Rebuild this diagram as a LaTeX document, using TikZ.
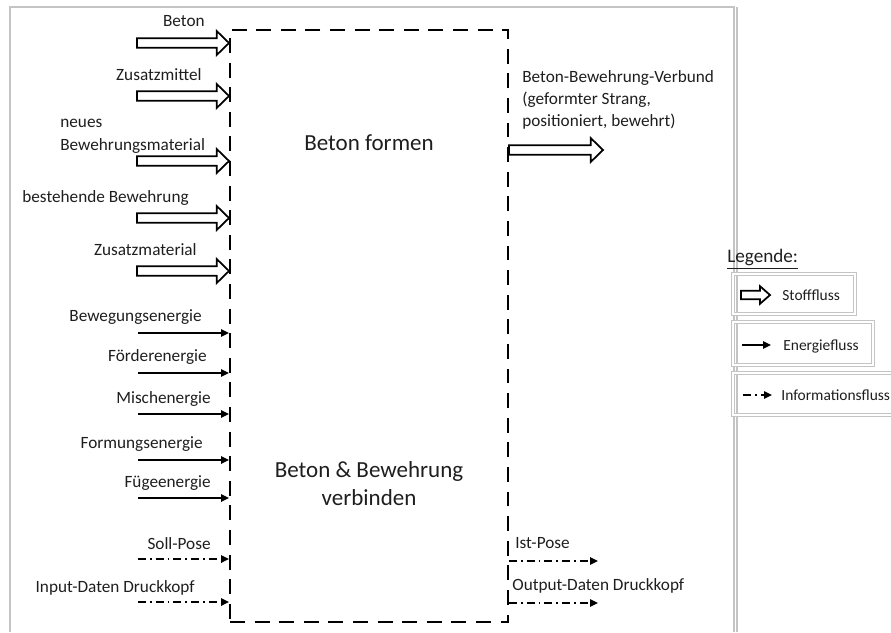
\documentclass[tikz,border=0pt]{standalone}
\usepackage{fontspec}
\setmainfont{Carlito}
\usetikzlibrary{arrows.meta, calc, fit}
\definecolor{ink}{HTML}{000000}
\definecolor{txt}{HTML}{1E1E1E}
\definecolor{rahmen}{HTML}{C4C4C4}
\tikzset{
  lbl/.style      = {inner sep=0pt, text height=7.7pt, text depth=1.7pt, text=txt,
                      font=\fontsize{9.8}{12.7}\selectfont},
  lblmulti/.style = {inner sep=0pt, align=left, text=txt, font=\fontsize{9.8}{12.7}\selectfont},
  leglbl/.style   = {lbl, font=\fontsize{8.8}{11}\selectfont},
  gross/.style    = {inner sep=0pt, align=center, text=txt, font=\fontsize{13.1}{16}\selectfont},
  prozess/.style  = {rectangle, draw=ink, line width=1.1pt, inner sep=0pt,
                      dash pattern=on 8.5pt off 5.5pt},
  stoffpfeil/.style n args = {3}{draw=ink, line width=1pt, fill=white, line join=miter,
                      to path={let \p1=(\tikztostart), \p2=(\tikztotarget) in
                      (\x1,\y1+#1) -- (\x2-#3,\y1+#1) -- (\x2-#3,\y1+#2) -- (\x2,\y1)
                      -- (\x2-#3,\y1-#2) -- (\x2-#3,\y1-#1) -- (\x1,\y1-#1) -- cycle}},
  stoff/.style      = {stoffpfeil={2.7pt}{6.8pt}{7pt}},
  stoffklein/.style = {stoffpfeil={2.4pt}{5pt}{5.7pt}},
  energie/.style  = {-{Triangle[length=4.5pt, width=4.2pt]}, line width=0.9pt, draw=ink},
  info/.style     = {-{Triangle[length=4.5pt, width=4.2pt]}, line width=0.9pt, draw=ink,
                      dash pattern=on 4.5pt off 2.3pt on 1pt off 2.3pt},
  legbox/.style   = {rectangle, draw=rahmen, line width=0.4pt, double, double distance=1.3pt,
                      inner sep=0pt},
}

\begin{document}
\begin{tikzpicture}[x=0.02cm, y=-0.02cm]
\useasboundingbox (0,0) rectangle (891,632);

% ---- Rahmen (Screenshot) ----
\draw[rahmen, line width=0.6pt] (10,632) -- (10,7) -- (734,7) -- (734,632);
\draw[rahmen, line width=0.6pt] (737,7) -- (737,632);

% ---- Prozess ----
\node[prozess, fit={(230,30) (508,622)}] (proc) {};
\node[gross] (formen) at (369,143) {Beton formen};
\node[gross] (verbinden) at (369,484) {Beton \& Bewehrung\\verbinden};

% ---- Stoffe (Input) ----
\coordinate (s1) at (137,43);
\coordinate (s2) at (137,96);
\coordinate (s3) at (137,161);
\coordinate (s4) at (137,218);
\coordinate (s5) at (137,271);
\node[lbl, anchor=east] (ls1) at (205,21) {Beton};
\node[lbl, anchor=east] (ls2) at (202,75) {Zusatzmittel};
\node[lblmulti, anchor=north west] (ls3) at (60,119) {neues\\Bewehrungsmaterial};
\node[lbl, anchor=west] (ls4) at (22,197) {bestehende Bewehrung};
\node[lbl, anchor=east] (ls5) at (197,250) {Zusatzmaterial};
\draw[stoff] (s1) to (s1 -| proc.west);
\draw[stoff] (s2) to (s2 -| proc.west);
\draw[stoff] (s3) to (s3 -| proc.west);
\draw[stoff] (s4) to (s4 -| proc.west);
\draw[stoff] (s5) to (s5 -| proc.west);

% ---- Energie (Input) ----
\coordinate (e1) at (138,333);
\coordinate (e2) at (138,373);
\coordinate (e3) at (138,414);
\coordinate (e4) at (138,460);
\coordinate (e5) at (138,498);
\node[lbl, anchor=east] (le1) at (202,316) {Bewegungsenergie};
\node[lbl, anchor=east] (le2) at (207,356) {Förderenergie};
\node[lbl, anchor=east] (le3) at (211,398) {Mischenergie};
\node[lbl, anchor=east] (le4) at (203,443) {Formungsenergie};
\node[lbl, anchor=east] (le5) at (211,482) {Fügeenergie};
\draw[energie] (e1) -- (e1 -| proc.west);
\draw[energie] (e2) -- (e2 -| proc.west);
\draw[energie] (e3) -- (e3 -| proc.west);
\draw[energie] (e4) -- (e4 -| proc.west);
\draw[energie] (e5) -- (e5 -| proc.west);

% ---- Information (Input) ----
\coordinate (i1) at (138,559);
\coordinate (i2) at (138,602);
\node[lbl, anchor=east] (li1) at (211,544) {Soll-Pose};
\node[lbl, anchor=east] (li2) at (195,587) {Input-Daten Druckkopf};
\draw[info] (i1) -- (i1 -| proc.west);
\draw[info] (i2) -- (i2 -| proc.west);

% ---- Output ----
\coordinate (o1) at (603,150);
\coordinate (o2) at (598,561);
\coordinate (o3) at (598,603);
\node[lblmulti, anchor=north west] (lo1) at (522,70)
  {Beton-Bewehrung-Verbund\\(geformter Strang,\\positioniert, bewehrt)};
\node[lbl, anchor=west] (lo2) at (515,543) {Ist-Pose};
\node[lbl, anchor=west] (lo3) at (512,585) {Output-Daten Druckkopf};
\draw[stoff] (o1 -| proc.east) to (o1);
\draw[info] (o2 -| proc.east) -- (o2);
\draw[info] (o3 -| proc.east) -- (o3);

% ---- Legende ----
\node[lbl, anchor=west, font=\fontsize{10.9}{13}\selectfont] (legtitel) at (727,257) {\underline{Legende:}};
\node[legbox, fit={(733,274) (855,314)}] (leg1) {};
\node[legbox, fit={(733,322) (873,365)}] (leg2) {};
\node[legbox, fit={(733,373) (900,415)}] (leg3) {};
\coordinate (leg1a) at (741,295);
\coordinate (leg1b) at (770,295);
\coordinate (leg2a) at (742,345);
\coordinate (leg2b) at (771,345);
\coordinate (leg3a) at (743,395);
\coordinate (leg3b) at (772,395);
\draw[stoffklein] (leg1a) to (leg1b);
\draw[energie] (leg2a) -- (leg2b);
\draw[info] (leg3a) -- (leg3b);
\node[leglbl, anchor=west] (legt1) at (782,295) {Stofffluss};
\node[leglbl, anchor=west] (legt2) at (783,345) {Energiefluss};
\node[leglbl, anchor=west] (legt3) at (781,395) {Informationsfluss};

\end{tikzpicture}
\end{document}
